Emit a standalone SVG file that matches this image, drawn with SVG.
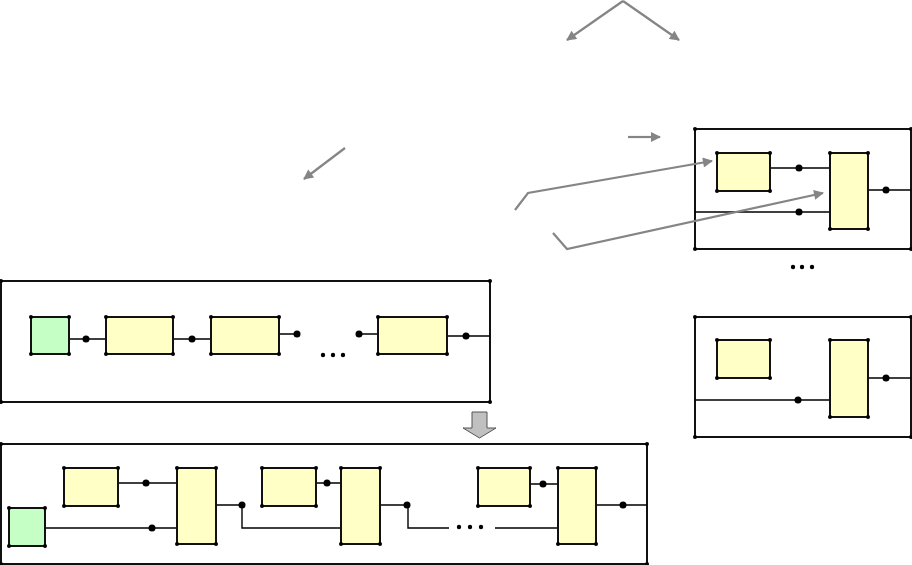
<svg xmlns="http://www.w3.org/2000/svg" width="912" height="565" viewBox="0 0 912 565">
<defs>
<style>
.frame{fill:#fff;stroke:#111;stroke-width:2;marker-start:url(#cd);marker-mid:url(#cd)}
.y{fill:#ffffc6;stroke:#111;stroke-width:2;marker-start:url(#cd);marker-mid:url(#cd)}
.g{fill:#c6ffc6;stroke:#111;stroke-width:2;marker-start:url(#cd);marker-mid:url(#cd)}
.w{fill:none;stroke:#000;stroke-width:1.4}
.d{fill:#000}
.arr{fill:none;stroke:#858585;stroke-width:2.2;marker-end:url(#ah)}
</style>
<marker id="ah" viewBox="0 0 10 10" refX="9" refY="5" markerWidth="12" markerHeight="10" markerUnits="userSpaceOnUse" orient="auto">
<path d="M0,0 L10,5 L0,10 z" fill="#858585"/>
</marker>
<marker id="cd" viewBox="0 0 4 4" refX="2" refY="2" markerWidth="4" markerHeight="4" markerUnits="userSpaceOnUse">
<circle cx="2" cy="2" r="2" fill="#000"/>
</marker>
</defs>
<rect width="912" height="565" fill="#fff"/>

<!-- container frames -->
<g id="frameTopRight"><path class="frame" d="M695,129H911V249H695Z"/></g>
<g id="frameBottomRight"><path class="frame" d="M695,317H911V437H695Z"/></g>
<g id="frameMiddle"><path class="frame" d="M1,281H490V402H1Z"/></g>
<g id="frameBottom"><path class="frame" d="M1,444H647V564H1Z"/></g>

<!-- connectors -->
<g id="connectors">
  <!-- top-right -->
  <path class="w" d="M770,168H830M695,212H830M868,190H911"/>
  <circle class="d" cx="799" cy="168" r="3.5"/><circle class="d" cx="799" cy="212" r="3.5"/><circle class="d" cx="886" cy="190" r="3.5"/>
  <!-- bottom-right -->
  <path class="w" d="M695,400H830M868,378H911"/>
  <circle class="d" cx="798" cy="400" r="3.5"/><circle class="d" cx="886" cy="378" r="3.5"/>
  <!-- middle -->
  <path class="w" d="M69,339H106M173,339H211M279,334H297M359,334H378M447,336H490"/>
  <circle class="d" cx="86" cy="339" r="3.5"/><circle class="d" cx="192" cy="339" r="3.5"/><circle class="d" cx="297" cy="334" r="3.5"/><circle class="d" cx="359" cy="334" r="3.5"/><circle class="d" cx="466" cy="336" r="3.5"/>
  <circle class="d" cx="323" cy="355" r="2.2"/><circle class="d" cx="333" cy="355" r="2.2"/><circle class="d" cx="343" cy="355" r="2.2"/>
  <!-- bottom -->
  <path class="w" d="M118,483H177M45,528H177M216,505H242V528H341M316,483H341M380,505H408V528H449M495,528H558M530,484H558M596,505H647"/>
  <circle class="d" cx="146" cy="483" r="3.5"/><circle class="d" cx="152" cy="528" r="3.5"/><circle class="d" cx="242" cy="505" r="3.5"/>
  <circle class="d" cx="327" cy="483" r="3.5"/><circle class="d" cx="407" cy="505" r="3.5"/>
  <circle class="d" cx="543" cy="484" r="3.5"/><circle class="d" cx="623" cy="505" r="3.5"/>
  <circle class="d" cx="459" cy="527" r="2.2"/><circle class="d" cx="470" cy="527" r="2.2"/><circle class="d" cx="481" cy="527" r="2.2"/>
  <!-- right ellipsis -->
  <circle class="d" cx="793" cy="267" r="2.2"/><circle class="d" cx="802" cy="267" r="2.2"/><circle class="d" cx="812" cy="267" r="2.2"/>
  <!-- gray arrows -->
  <path class="arr" d="M623,1L567,40"/>
  <path class="arr" d="M623,1L679,40"/>
  <path class="arr" d="M628,137H660"/>
  <path class="arr" d="M345,148L304,179"/>
  <path class="arr" d="M515,210L528,193L712,161"/>
  <path class="arr" d="M553,233L567,249L823,193"/>
  <!-- block arrow -->
  <path d="M472,412H487V428H496L479.5,438L463,428H472Z" fill="#c0c0c0" stroke="#555" stroke-width="1"/>
</g>

<!-- nodes -->
<g id="tr_box1"><path class="y" d="M717,153H770V191H717Z"/></g>
<g id="tr_box2"><path class="y" d="M830,153H868V229H830Z"/></g>
<g id="br_box1"><path class="y" d="M717,340H770V378H717Z"/></g>
<g id="br_box2"><path class="y" d="M830,340H868V417H830Z"/></g>

<g id="m_green"><path class="g" d="M31,317H69V354H31Z"/></g>
<g id="m_box1"><path class="y" d="M106,317H173V354H106Z"/></g>
<g id="m_box2"><path class="y" d="M211,317H279V354H211Z"/></g>
<g id="m_box3"><path class="y" d="M378,317H447V354H378Z"/></g>

<g id="b_green"><path class="g" d="M9,508H45V546H9Z"/></g>
<g id="b_box1"><path class="y" d="M64,468H118V506H64Z"/></g>
<g id="b_tall1"><path class="y" d="M177,468H216V544H177Z"/></g>
<g id="b_box2"><path class="y" d="M262,468H316V506H262Z"/></g>
<g id="b_tall2"><path class="y" d="M341,468H380V544H341Z"/></g>
<g id="b_box3"><path class="y" d="M478,468H530V506H478Z"/></g>
<g id="b_tall3"><path class="y" d="M558,468H596V544H558Z"/></g>
</svg>
